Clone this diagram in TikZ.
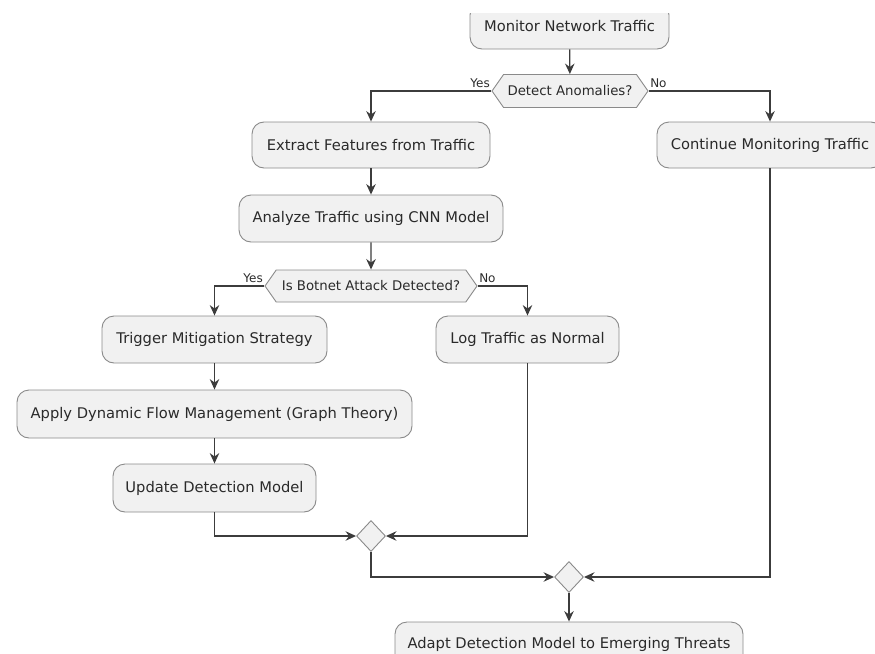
\documentclass[tikz,border=0pt]{standalone}
\usepackage{fontspec}
\setmainfont{DejaVu Sans}
\usetikzlibrary{arrows.meta,shapes.geometric,shapes.symbols}

\definecolor{boxfill}{HTML}{F1F1F1}
\definecolor{boxline}{HTML}{8A8A8A}
\definecolor{flowline}{HTML}{3C3C3C}
\definecolor{textcol}{HTML}{2A2A2A}

\begin{document}
\begin{tikzpicture}[x=1pt,y=-1pt,
    action/.style={draw=boxline, fill=boxfill, line width=0.9pt, rounded corners=12pt,
      inner sep=0pt, minimum height=46pt, text=textcol, font=\fontsize{14.7}{16}\selectfont},
    choice/.style={draw=boxline, fill=boxfill, line width=0.9pt, shape=signal,
      signal to=west and east, signal pointer angle=110, inner sep=0pt,
      minimum height=33pt, text=textcol, font=\fontsize{13.3}{15}\selectfont},
    merge/.style={draw=boxline, fill=boxfill, line width=0.9pt, diamond, aspect=0.9,
      inner sep=0pt, minimum width=29pt, minimum height=31pt},
    answer/.style={inner xsep=1.5pt, inner ysep=3pt, text=textcol, font=\fontsize{12}{14}\selectfont},
    flow/.style={draw=flowline, line width=1.3pt, -{Stealth[length=10.5pt,width=9.5pt,inset=3.5pt]}}]
    \useasboundingbox (0,0) rectangle (875,653);
    \clip (0,13) rectangle (875,653);

    % activities
    \node[action, minimum width=199pt] (monitor) at (569.5,26) {Monitor Network Traffic};
    \node[choice, minimum width=156pt] (anomalies) at (570,91) {Detect Anomalies?};
    \node[action, minimum width=238pt] (extract) at (371,145) {Extract Features from Traffic};
    \node[action, minimum width=226pt] (cont) at (770,145) {Continue Monitoring Traffic};
    \node[action, minimum width=264pt, minimum height=47pt] (analyze) at (371,218.5) {Analyze Traffic using CNN Model};
    \node[choice, minimum width=212pt, minimum height=32pt] (botnet) at (371,286) {Is Botnet Attack Detected?};
    \node[action, minimum width=225pt, minimum height=47pt] (trigger) at (214.5,339.5) {Trigger Mitigation Strategy};
    \node[action, minimum width=183pt, minimum height=47pt] (lognormal) at (527.5,339.5) {Log Traffic as Normal};
    \node[action, minimum width=395pt, minimum height=48pt] (apply) at (214.5,414) {Apply Dynamic Flow Management (Graph Theory)};
    \node[action, minimum width=203pt, minimum height=48pt] (update) at (214.5,488) {Update Detection Model};
    \node[merge] (mergeA) at (371,536) {};
    \node[merge] (mergeB) at (569,577) {};
    \node[action, minimum width=348pt, minimum height=44pt] (adapt) at (569,644) {Adapt Detection Model to Emerging Threats};

    % yes / no
    \node[answer, anchor=south east] (yesA) at (anomalies.west) {Yes};
    \node[answer, anchor=south west] (noA) at (anomalies.east) {No};
    \node[answer, anchor=south east] (yesB) at (botnet.west) {Yes};
    \node[answer, anchor=south west] (noB) at (botnet.east) {No};

    % flow
    \draw[flow] (monitor) -- (anomalies);
    \draw[flow] (anomalies.west) -| (extract);
    \draw[flow] (anomalies.east) -| (cont);
    \draw[flow] (extract) -- (analyze);
    \draw[flow] (analyze) -- (botnet);
    \draw[flow] (botnet.west) -| (trigger);
    \draw[flow] (botnet.east) -| (lognormal);
    \draw[flow] (trigger) -- (apply);
    \draw[flow] (apply) -- (update);
    \draw[flow] (update) |- (mergeA);
    \draw[flow] (lognormal) |- (mergeA);
    \draw[flow] (mergeA) |- (mergeB);
    \draw[flow] (cont) |- (mergeB);
    \draw[flow] (mergeB) -- (adapt);
\end{tikzpicture}
\end{document}
